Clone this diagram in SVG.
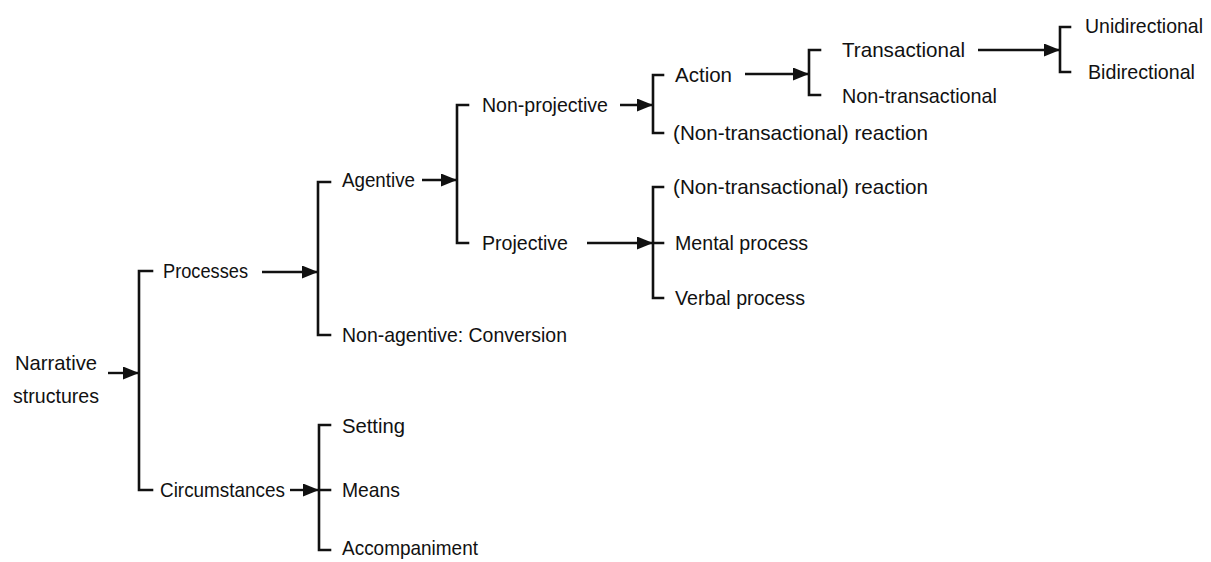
<svg xmlns="http://www.w3.org/2000/svg" width="1211" height="562" viewBox="0 0 1211 562">
<style>
text{font-family:"Liberation Sans",Arial,sans-serif;font-size:21px;fill:#111}
.br{fill:none;stroke:#111;stroke-width:2.6;stroke-linecap:square;stroke-linejoin:miter}
.ar{fill:none;stroke:#111;stroke-width:2.4}
</style>
<defs>
<marker id="ah" markerUnits="userSpaceOnUse" markerWidth="17" markerHeight="13" refX="16" refY="6.5" orient="auto">
<path d="M0,0 L16,6.5 L0,13 z" fill="#111"/>
</marker>
</defs>
<rect width="1211" height="562" fill="#fff"/>
<g id="connectors">
<line class="ar" x1="108" y1="373" x2="139" y2="373" marker-end="url(#ah)"/>
<path class="br" d="M152,271 H139 V490 H152"/>
<line class="ar" x1="262" y1="272" x2="318" y2="272" marker-end="url(#ah)"/>
<path class="br" d="M330,182 H318 V335 H330"/>
<line class="ar" x1="290" y1="490" x2="319" y2="490" marker-end="url(#ah)"/>
<path class="br" d="M330,425 H319 V550 H330 M319,490 H330"/>
<line class="ar" x1="422" y1="180" x2="457" y2="180" marker-end="url(#ah)"/>
<path class="br" d="M468,105 H457 V243 H468"/>
<line class="ar" x1="620" y1="105" x2="653" y2="105" marker-end="url(#ah)"/>
<path class="br" d="M663,75 H653 V133 H663"/>
<line class="ar" x1="587" y1="243" x2="653" y2="243" marker-end="url(#ah)"/>
<path class="br" d="M663,187 H653 V298 H663 M653,243 H663"/>
<line class="ar" x1="745" y1="74" x2="809" y2="74" marker-end="url(#ah)"/>
<path class="br" d="M820,50 H809 V95 H820"/>
<line class="ar" x1="978" y1="50" x2="1060" y2="50" marker-end="url(#ah)"/>
<path class="br" d="M1070,27 H1060 V72 H1070"/>
</g>
<g id="narrative"><text x="15" y="370" textLength="82" lengthAdjust="spacingAndGlyphs">Narrative</text><text x="13" y="403" textLength="86" lengthAdjust="spacingAndGlyphs">structures</text></g>
<g id="processes"><text x="163" y="278" textLength="85" lengthAdjust="spacingAndGlyphs">Processes</text></g>
<g id="circumstances"><text x="160" y="497" textLength="125" lengthAdjust="spacingAndGlyphs">Circumstances</text></g>
<g id="agentive"><text x="342" y="187" textLength="73" lengthAdjust="spacingAndGlyphs">Agentive</text></g>
<g id="non-agentive"><text x="342" y="342" textLength="225" lengthAdjust="spacingAndGlyphs">Non-agentive: Conversion</text></g>
<g id="setting"><text x="342" y="433" textLength="63" lengthAdjust="spacingAndGlyphs">Setting</text></g>
<g id="means"><text x="342" y="497" textLength="58" lengthAdjust="spacingAndGlyphs">Means</text></g>
<g id="accompaniment"><text x="342" y="555" textLength="136" lengthAdjust="spacingAndGlyphs">Accompaniment</text></g>
<g id="non-projective"><text x="482" y="112" textLength="126" lengthAdjust="spacingAndGlyphs">Non-projective</text></g>
<g id="projective"><text x="482" y="250" textLength="86" lengthAdjust="spacingAndGlyphs">Projective</text></g>
<g id="action"><text x="675" y="82" textLength="57" lengthAdjust="spacingAndGlyphs">Action</text></g>
<g id="reaction-1"><text x="673" y="140" textLength="255" lengthAdjust="spacingAndGlyphs">(Non-transactional) reaction</text></g>
<g id="reaction-2"><text x="673" y="194" textLength="255" lengthAdjust="spacingAndGlyphs">(Non-transactional) reaction</text></g>
<g id="mental"><text x="675" y="250" textLength="133" lengthAdjust="spacingAndGlyphs">Mental process</text></g>
<g id="verbal"><text x="675" y="305" textLength="130" lengthAdjust="spacingAndGlyphs">Verbal process</text></g>
<g id="transactional"><text x="842" y="57" textLength="123" lengthAdjust="spacingAndGlyphs">Transactional</text></g>
<g id="non-transactional"><text x="842" y="103" textLength="155" lengthAdjust="spacingAndGlyphs">Non-transactional</text></g>
<g id="unidirectional"><text x="1085" y="33" textLength="118" lengthAdjust="spacingAndGlyphs">Unidirectional</text></g>
<g id="bidirectional"><text x="1088" y="79" textLength="107" lengthAdjust="spacingAndGlyphs">Bidirectional</text></g>
</svg>
